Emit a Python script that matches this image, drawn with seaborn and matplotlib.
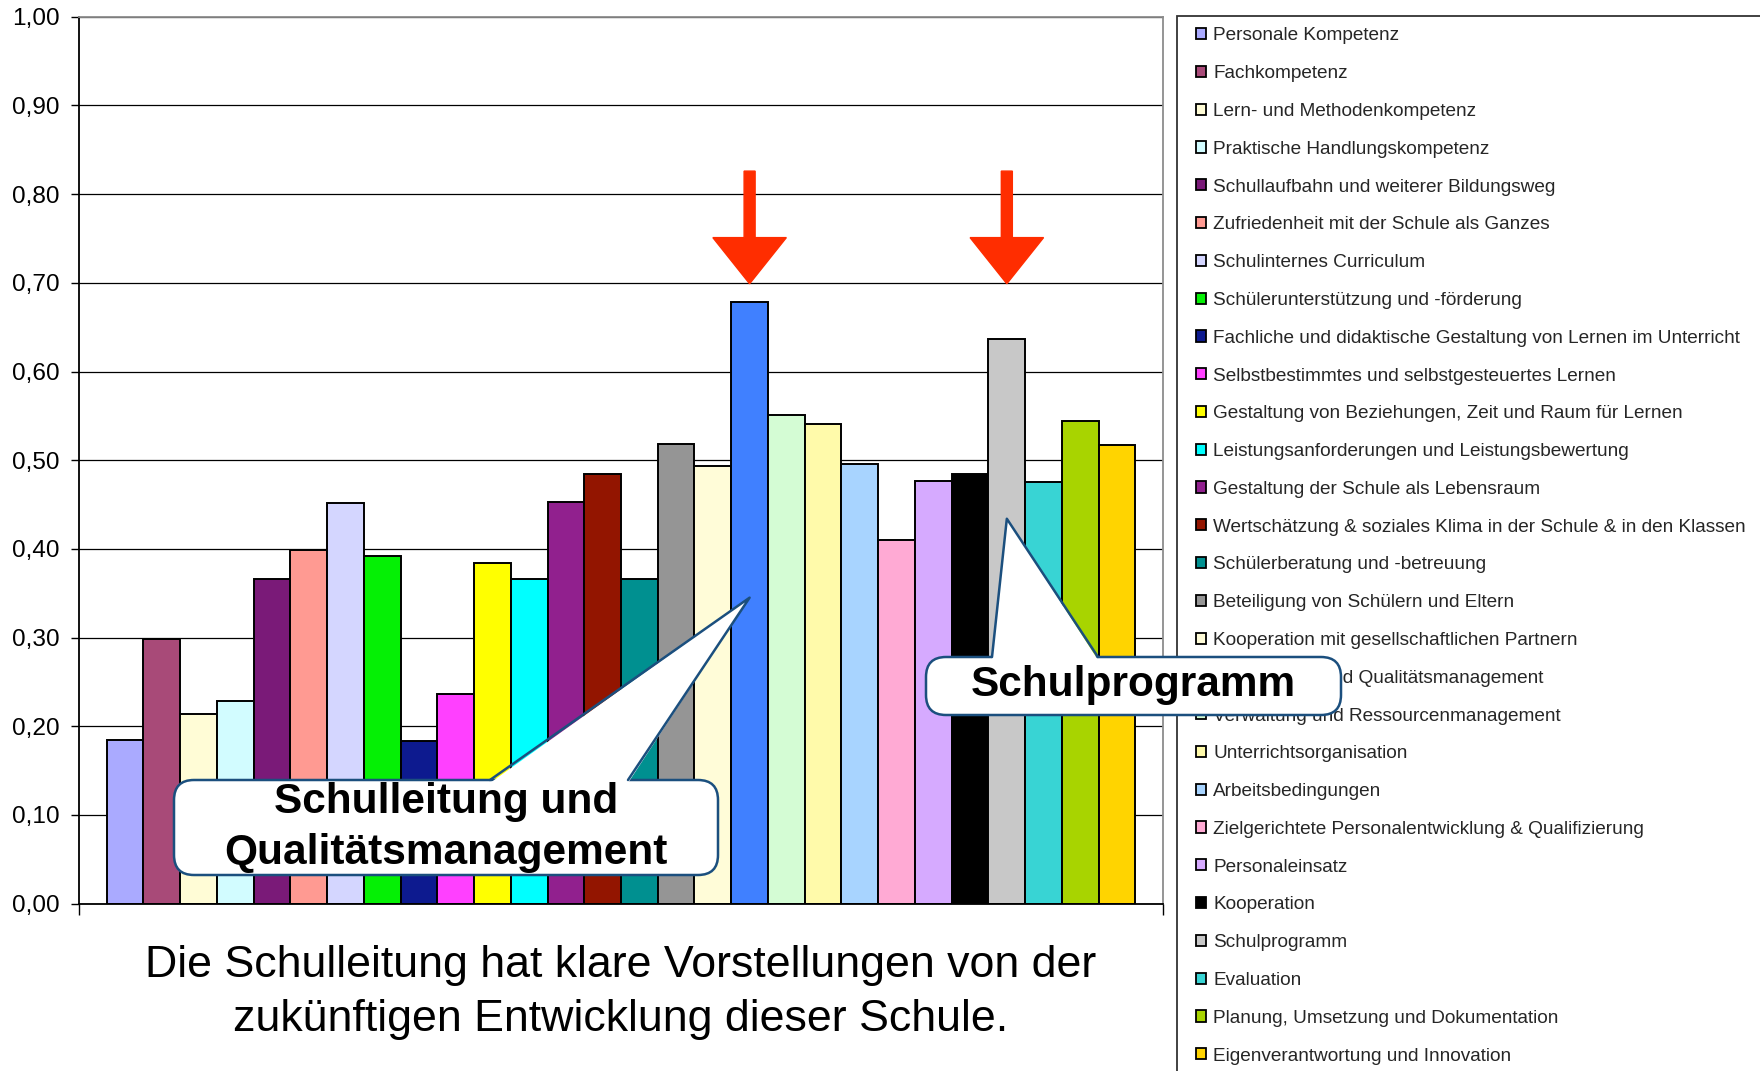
import matplotlib
matplotlib.use("Agg")
import matplotlib.pyplot as plt
from matplotlib.patches import FancyBboxPatch, Polygon, Rectangle, FancyArrow
from matplotlib.lines import Line2D
import seaborn as sns
import pandas as pd

categories = [
    "Personale Kompetenz",
    "Fachkompetenz",
    "Lern- und Methodenkompetenz",
    "Praktische Handlungskompetenz",
    "Schullaufbahn und weiterer Bildungsweg",
    "Zufriedenheit mit der Schule als Ganzes",
    "Schulinternes Curriculum",
    "Schülerunterstützung und -förderung",
    "Fachliche und didaktische Gestaltung von Lernen im Unterricht",
    "Selbstbestimmtes und selbstgesteuertes Lernen",
    "Gestaltung von Beziehungen, Zeit und Raum für Lernen",
    "Leistungsanforderungen und Leistungsbewertung",
    "Gestaltung der Schule als Lebensraum",
    "Wertschätzung & soziales Klima in der Schule & in den Klassen",
    "Schülerberatung und -betreuung",
    "Beteiligung von Schülern und Eltern",
    "Kooperation mit gesellschaftlichen Partnern",
    "Schulleitung und Qualitätsmanagement",
    "Verwaltung und Ressourcenmanagement",
    "Unterrichtsorganisation",
    "Arbeitsbedingungen",
    "Zielgerichtete Personalentwicklung & Qualifizierung",
    "Personaleinsatz",
    "Kooperation",
    "Schulprogramm",
    "Evaluation",
    "Planung, Umsetzung und Dokumentation",
    "Eigenverantwortung und Innovation",
]

values = [0.184, 0.298, 0.214, 0.228, 0.366, 0.399, 0.452, 0.392, 0.183, 0.236,
          0.384, 0.366, 0.453, 0.485, 0.366, 0.518, 0.493, 0.678, 0.551, 0.541,
          0.496, 0.410, 0.476, 0.485, 0.637, 0.475, 0.544, 0.517]

colors = ["#AAAAFF", "#A84A78", "#FFFCD6", "#D2FCFF", "#7A1A78", "#FF9A92",
          "#D4D6FF", "#05F005", "#0D1A8F", "#FF40FF", "#FFFF00", "#00FFFF",
          "#91208E", "#931500", "#009090", "#959595", "#FFFCD8", "#4080FF",
          "#D4FCD4", "#FFFAAA", "#A8D4FF", "#FFAAD4", "#D6AAFF", "#000000",
          "#C8C8C8", "#38D4D4", "#A8D400", "#FFD400"]

ytick_values = [0.0, 0.1, 0.2, 0.3, 0.4, 0.5, 0.6, 0.7, 0.8, 0.9, 1.0]
ytick_labels = ["0,00", "0,10", "0,20", "0,30", "0,40", "0,50", "0,60",
                "0,70", "0,80", "0,90", "1,00"]

caption_lines = ["Die Schulleitung hat klare Vorstellungen von der",
                 "zukünftigen Entwicklung dieser Schule."]
callout1_lines = ["Schulleitung und", "Qualitätsmanagement"]
callout2_text = "Schulprogramm"
highlight_idx = [17, 24]

sns.set_theme(style="white")
plt.rcParams["font.family"] = ["Liberation Sans", "DejaVu Sans"]

W, H = 1760, 1071
fig = plt.figure(figsize=(W / 100, H / 100), dpi=100)
fig.patch.set_facecolor("white")

ax_left, ax_right, ax_top, ax_bottom = 79, 1163, 16.8, 903.6
ax = fig.add_axes([ax_left / W, 1 - ax_bottom / H, (ax_right - ax_left) / W,
                   (ax_bottom - ax_top) / H])

df = pd.DataFrame({"cat": categories, "val": values})
palette = dict(zip(categories, colors))
sns.barplot(data=df, x="cat", y="val", hue="cat", palette=palette, dodge=False,
            width=1.0, edgecolor="black", linewidth=1.4, saturation=1,
            legend=True, ax=ax)

old = ax.get_legend()
handles = old.legend_handles
labels = [t.get_text() for t in old.get_texts()]
old.remove()

ax.set_xlim(-1.25, 28.25)
ax.set_ylim(0, 1.0)
ax.set_xlabel("")
ax.set_ylabel("")
ax.set_yticks(ytick_values)
ax.set_yticklabels(ytick_labels, fontsize=17.6, color="black")
ax.set_xticks([-1.25, 28.25])
ax.set_xticklabels(["", ""])
ax.tick_params(axis="y", direction="out", length=6, width=1, color="black",
               pad=8, left=True)
ax.tick_params(axis="x", direction="out", length=8, width=1, color="black",
               bottom=True)
ax.yaxis.grid(True, color="black", lw=0.9)
ax.set_axisbelow(True)
for s in ["left", "bottom"]:
    ax.spines[s].set_color("black")
    ax.spines[s].set_linewidth(1.3)
for s in ["top", "right"]:
    ax.spines[s].set_color("#8C8C8C")
    ax.spines[s].set_linewidth(1.3)

# legend
leg = ax.legend(handles, labels, loc="upper left",
                bbox_to_anchor=(1196 / W, 1 - 27.5 / H),
                bbox_transform=fig.transFigure, frameon=False, fontsize=13.7,
                handlelength=0.53, handleheight=0.53, handletextpad=0.38,
                labelspacing=1.092, borderpad=0, borderaxespad=0)
for h in leg.legend_handles:
    h.set_edgecolor("black")
    h.set_linewidth(1.3)
leg.set_zorder(5)

frame = Rectangle((1177 / W, -0.1), 1.0, 1.1 - 15.7 / H,
                  transform=fig.transFigure, fill=False, edgecolor="#333333",
                  lw=1.3, zorder=1, clip_on=False)
ax.add_artist(frame)

# red arrows
for i in highlight_idx:
    arr = FancyArrow(i, 0.826, 0, -0.127, width=0.30, head_width=2.0,
                     head_length=0.052, length_includes_head=True,
                     color="#FF2D00", zorder=6, clip_on=False)
    ax.add_artist(arr)

# callouts
inv = fig.dpi_scale_trans.inverted()
blue = "#1B4F7E"


def p2i(x, y):
    return (x / 100.0, (H - y) / 100.0)


def data2i(x, y):
    disp = ax.transData.transform((x, y))
    return tuple(inv.transform(disp))


def callout(box, base, tip_data, lines, fs, line_ys):
    x0, y0, x1, y1 = box
    bl = p2i(x0, y1)
    box_patch = FancyBboxPatch(bl, (x1 - x0) / 100, (y1 - y0) / 100,
                               boxstyle="round,pad=0,rounding_size=0.2",
                               transform=fig.dpi_scale_trans, fc="white",
                               ec=blue, lw=1.8, zorder=10, clip_on=False)
    ax.add_artist(box_patch)
    tip = data2i(*tip_data)
    b1 = p2i(base[0], y0 + 3)
    b2 = p2i(base[1], y0 + 3)
    poly = Polygon([b1, tip, b2], closed=True, transform=fig.dpi_scale_trans,
                   fc="white", ec="none", zorder=11, clip_on=False)
    ax.add_artist(poly)
    a1 = p2i(base[0], y0)
    a2 = p2i(base[1], y0)
    ln = Line2D([a1[0], tip[0], a2[0]], [a1[1], tip[1], a2[1]],
                transform=fig.dpi_scale_trans, color=blue, lw=1.8, zorder=12,
                clip_on=False)
    ax.add_artist(ln)
    cx = (x0 + x1) / 2
    for t, yy in zip(lines, line_ys):
        ax.text(*p2i(cx, yy), t, transform=fig.dpi_scale_trans, ha="center",
                va="center", fontsize=fs, fontweight="bold", color="black",
                zorder=13, clip_on=False)


callout((174, 780, 718, 875), (490, 628), (highlight_idx[0], 0.345),
        callout1_lines, 30.5, (802, 853))
callout((926, 657, 1341, 715), (992, 1098), (highlight_idx[1], 0.434),
        [callout2_text], 30.5, (685,))

# caption
fig.text(621 / W, 1 - 966 / H, caption_lines[0], ha="center", va="center",
         fontsize=32.2, color="black")
fig.text(621 / W, 1 - 1019 / H, caption_lines[1], ha="center", va="center",
         fontsize=32.2, color="black")

fig.savefig("out.png", dpi=100, facecolor="white")
